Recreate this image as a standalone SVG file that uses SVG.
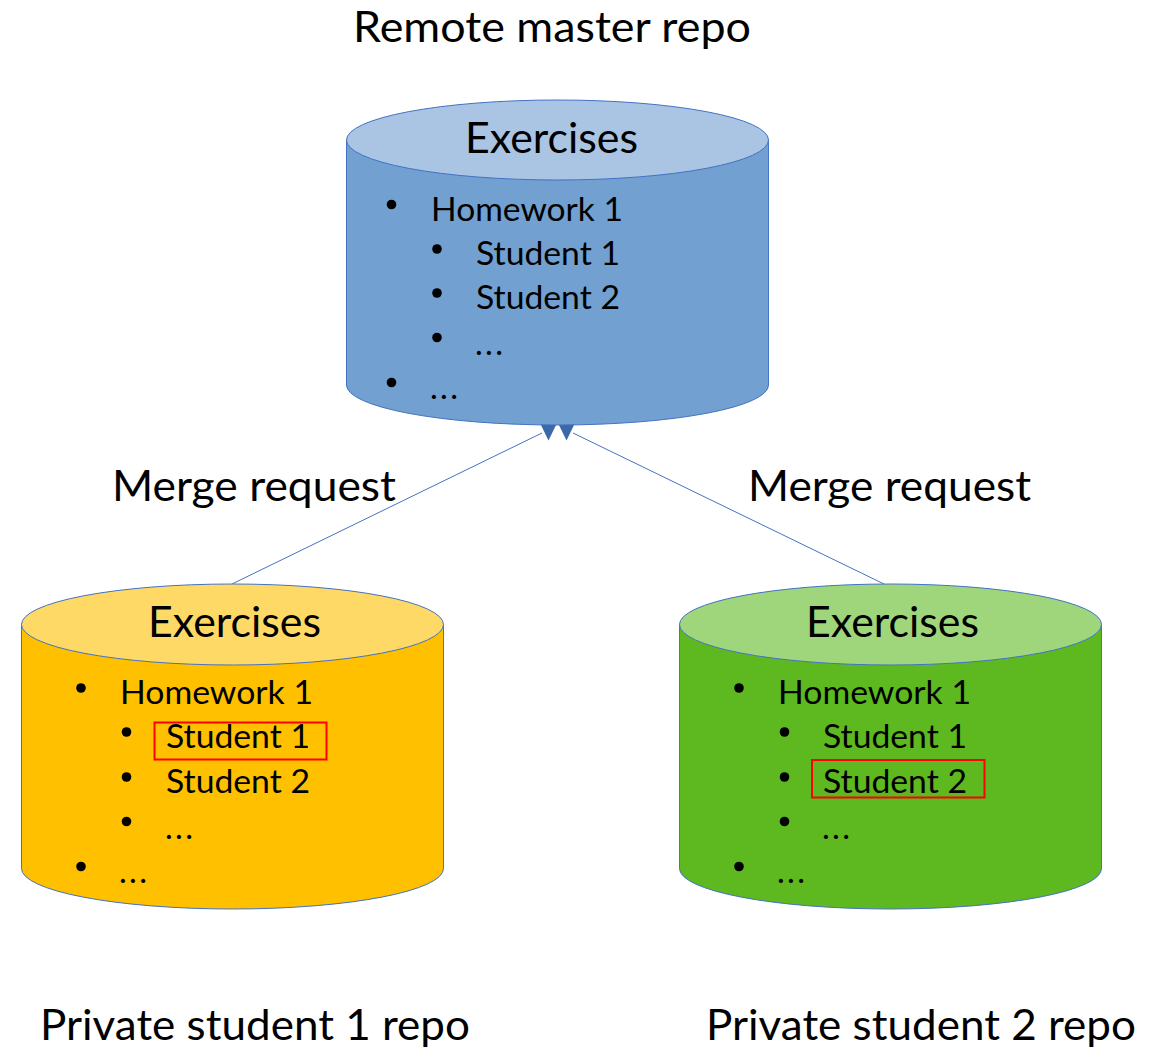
<svg xmlns="http://www.w3.org/2000/svg" width="1163" height="1047" viewBox="0 0 1163 1047">
  <style>
    text { font-family: Lato, "Open Sans", "Liberation Sans", sans-serif; fill: #000; }
    .title { font-size: 42px; }
    .head { font-size: 42px; text-anchor: start; }
    .item { font-size: 33px; }
    .outline { stroke: #4472c4; stroke-width: 1; }
    .blue-body { fill: #72a0d0; }
    .blue-top { fill: #a9c5e3; }
    .yellow-body { fill: #ffc000; }
    .yellow-top { fill: #ffd966; }
    .green-body { fill: #5eb81f; }
    .green-top { fill: #a0d67b; }
    .dot { fill: #000; }
    .mark { fill: none; stroke: #ff0000; stroke-width: 2; }
    .link { stroke: #4472c4; stroke-width: 1; fill: none; }
    .tip { fill: #3a68a8; }
  </style>
  <defs>
    <path id="arrow-tip" d="M-9.5,-4 L9.5,-4 L0,15.5 Z"/>
  </defs>

  <rect width="1163" height="1047" fill="#ffffff"/>

  <!-- free-standing captions -->
  <g id="captions">
    <text class="title" x="353" y="42" textLength="398" lengthAdjust="spacingAndGlyphs">Remote master repo</text>
    <text class="title" x="112" y="501" textLength="284" lengthAdjust="spacingAndGlyphs">Merge request</text>
    <text class="title" x="748" y="501" textLength="283" lengthAdjust="spacingAndGlyphs">Merge request</text>
    <text class="title" x="40" y="1040" textLength="430" lengthAdjust="spacingAndGlyphs">Private student 1 repo</text>
    <text class="title" x="706" y="1040" textLength="430" lengthAdjust="spacingAndGlyphs">Private student 2 repo</text>
  </g>

  <!-- merge request connectors, drawn beneath the master repo -->
  <g id="connectors">
    <line class="link" x1="232" y1="584" x2="542" y2="433"/>
    <line class="link" x1="884" y1="584" x2="573" y2="433"/>
    <use href="#arrow-tip" class="tip" x="548.5" y="425"/>
    <use href="#arrow-tip" class="tip" x="566.5" y="425"/>
  </g>

  <!-- remote master repository -->
  <g id="master-repo">
    <path class="blue-body outline" d="M346.5,140 L346.5,385 A211,40 0 0 0 768.5,385 L768.5,140 Z"/>
    <ellipse class="blue-top outline" cx="557.5" cy="140" rx="211" ry="40"/>
    <text class="head" x="465" y="153" textLength="173" lengthAdjust="spacingAndGlyphs">Exercises</text>
    <circle class="dot" cx="391.5" cy="204.5" r="4.8"/>
    <text class="item" x="431" y="221" textLength="192" lengthAdjust="spacingAndGlyphs">Homework 1</text>
    <circle class="dot" cx="437" cy="249" r="4.8"/>
    <text class="item" x="476" y="265" textLength="144" lengthAdjust="spacingAndGlyphs">Student 1</text>
    <circle class="dot" cx="437" cy="293" r="4.8"/>
    <text class="item" x="476" y="309" textLength="144" lengthAdjust="spacingAndGlyphs">Student 2</text>
    <circle class="dot" cx="437" cy="337.5" r="4.8"/>
    <text class="item" x="475" y="355" textLength="28" lengthAdjust="spacing">...</text>
    <circle class="dot" cx="391.5" cy="382.5" r="4.8"/>
    <text class="item" x="430" y="399" textLength="28" lengthAdjust="spacing">...</text>
  </g>

  <!-- private repository of student 1 -->
  <g id="student1-repo">
    <path class="yellow-body outline" d="M21.5,624.5 L21.5,868.5 A211,40.5 0 0 0 443.5,868.5 L443.5,624.5 Z"/>
    <ellipse class="yellow-top outline" cx="232.5" cy="624.5" rx="211" ry="40.5"/>
    <text class="head" x="148" y="637" textLength="173" lengthAdjust="spacingAndGlyphs">Exercises</text>
    <circle class="dot" cx="81" cy="688" r="4.8"/>
    <text class="item" x="120" y="704" textLength="193" lengthAdjust="spacingAndGlyphs">Homework 1</text>
    <circle class="dot" cx="126.5" cy="732" r="4.8"/>
    <text class="item" x="166" y="748" textLength="144" lengthAdjust="spacingAndGlyphs">Student 1</text>
    <rect class="mark" x="154.5" y="722.5" width="172" height="37"/>
    <circle class="dot" cx="126.5" cy="777" r="4.8"/>
    <text class="item" x="166" y="793" textLength="144" lengthAdjust="spacingAndGlyphs">Student 2</text>
    <circle class="dot" cx="126.5" cy="821.5" r="4.8"/>
    <text class="item" x="165" y="839" textLength="28" lengthAdjust="spacing">...</text>
    <circle class="dot" cx="81" cy="866.5" r="4.8"/>
    <text class="item" x="119" y="883" textLength="28" lengthAdjust="spacing">...</text>
  </g>

  <!-- private repository of student 2 -->
  <g id="student2-repo">
    <path class="green-body outline" d="M679.5,624.5 L679.5,868.5 A211,40.5 0 0 0 1101.5,868.5 L1101.5,624.5 Z"/>
    <ellipse class="green-top outline" cx="890.5" cy="624.5" rx="211" ry="40.5"/>
    <text class="head" x="806" y="637" textLength="173" lengthAdjust="spacingAndGlyphs">Exercises</text>
    <circle class="dot" cx="739" cy="688" r="4.8"/>
    <text class="item" x="778" y="704" textLength="193" lengthAdjust="spacingAndGlyphs">Homework 1</text>
    <circle class="dot" cx="784.5" cy="732" r="4.8"/>
    <text class="item" x="823" y="748" textLength="144" lengthAdjust="spacingAndGlyphs">Student 1</text>
    <circle class="dot" cx="784.5" cy="777" r="4.8"/>
    <text class="item" x="823" y="793" textLength="144" lengthAdjust="spacingAndGlyphs">Student 2</text>
    <rect class="mark" x="812" y="760" width="172.5" height="37.5"/>
    <circle class="dot" cx="784.5" cy="821.5" r="4.8"/>
    <text class="item" x="822" y="839" textLength="28" lengthAdjust="spacing">...</text>
    <circle class="dot" cx="739" cy="866.5" r="4.8"/>
    <text class="item" x="777" y="883" textLength="28" lengthAdjust="spacing">...</text>
  </g>
</svg>
